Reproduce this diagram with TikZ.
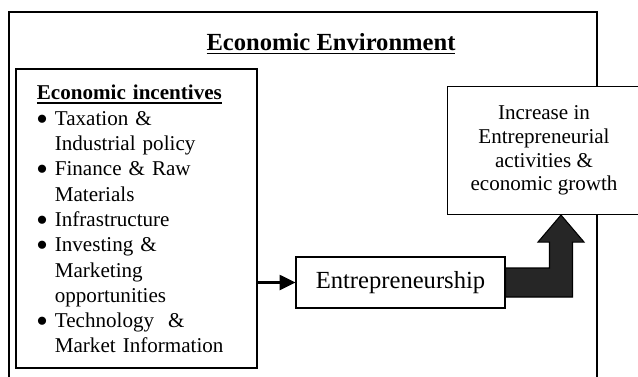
\documentclass[tikz,border=0pt]{standalone}
\usepackage{fontspec}
\setmainfont{Liberation Serif}
\usetikzlibrary{arrows.meta,positioning,calc}

% bold heading with a thick underline
\newcommand{\headline}[1]{\vtop{\hbox{#1}\kern1.3pt\hrule height 0.9pt}}
\newcommand{\itemdot}{\raisebox{0.6pt}{$\bullet$}}

\begin{document}
\begin{tikzpicture}[
    x=0.02cm, y=-0.02cm,
    every node/.style={font=\fontsize{12pt}{14.4pt}\selectfont},
    envbox/.style={draw, line width=1pt},
    mainbox/.style={rectangle, draw, fill=white, line width=0.6pt, align=center},
    listbox/.style={rectangle, draw, fill=white, line width=1pt, anchor=north west, inner xsep=0.42cm, text width=3.98cm, minimum height=5.98cm, align=left},
    arrow/.style={-{Triangle[length=9pt,width=8.5pt]}, line width=1.3pt},
    blockarrow/.style={draw, fill=black!85, line width=0.6pt, line join=miter}
]
\useasboundingbox (0,0) rectangle (638,376);

% Economic environment (frame runs off the bottom)
\draw[envbox] (9,12) rectangle (597,400);
\node[anchor=base, font=\fontsize{14pt}{16pt}\selectfont\bfseries] (title) at (331,50) {\headline{Economic Environment}};

% Economic incentives
\node[listbox] (incentives) at (15,68) {%
  \noindent\begin{tabular}{@{}p{0.36cm}@{}l@{}}
  \multicolumn{2}{@{}l@{}}{\rule{0pt}{13.5pt}\headline{\textbf{Economic incentives}}}\\
  \itemdot & Taxation \&\\
   & Industrial policy\\
  \itemdot & Finance \& Raw\\
   & Materials\\
  \itemdot & Infrastructure\\
  \itemdot & Investing \&\\
   & Marketing\\
   & opportunities\\
  \itemdot & Technology \ \&\\
   & Market Information
  \end{tabular}};

% Entrepreneurship
\node[mainbox, minimum width=4.18cm, minimum height=1.02cm, font=\fontsize{14pt}{16pt}\selectfont] (entre) at (400.5,282.5) {Entrepreneurship};

% Outcome
\node[mainbox, anchor=north west, minimum width=3.86cm, minimum height=2.56cm, font=\fontsize{12pt}{13.5pt}\selectfont] (growth) at (447,86) {Increase in\\Entrepreneurial\\activities \&\\economic growth};

% Arrows
\draw[arrow] (incentives.east |- entre.west) -- (entre.west);

\coordinate (tip) at ($(growth.south west)+(114,0)$);
\draw[blockarrow] ($(entre.east)+(0,-14.5)$) -| ($(tip)+(-11.5,27)$) -- ++(-11.5,0) -- (tip)
  -- ++(23,27) -- ++(-11.5,0) |- ($(entre.east)+(0,14.5)$) -- cycle;

\end{tikzpicture}
\end{document}
